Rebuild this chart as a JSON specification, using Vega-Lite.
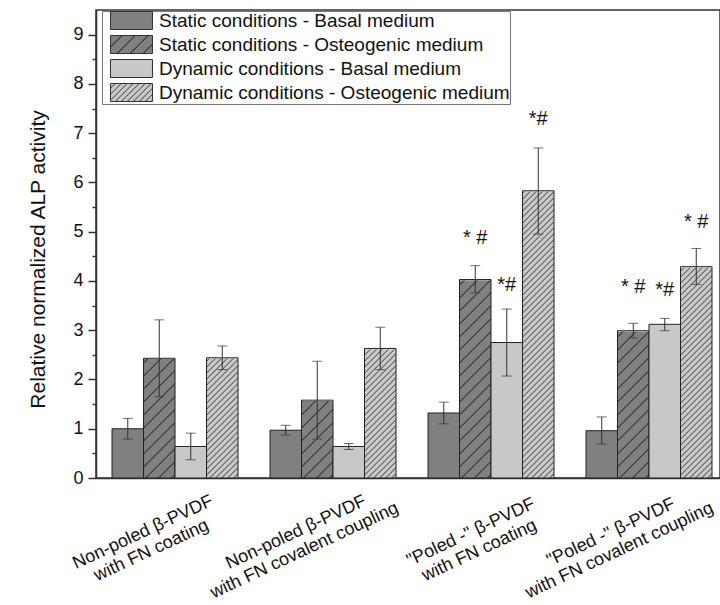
{
  "$schema": "https://vega.github.io/schema/vega-lite/v6.json",
  "width": 624,
  "height": 468,
  "autosize": {"type": "none"},
  "padding": {"left": 96, "top": 10, "right": 0, "bottom": 127},
  "background": "white",
  "config": {"view": {"stroke": "#333333", "strokeWidth": 1.5}, "font": "Liberation Sans"},
  "data": {"values": [
    {"group": "g1", "series": "SB", "value": 1.00, "lo": 0.79, "hi": 1.21},
    {"group": "g1", "series": "SO", "value": 2.43, "lo": 1.65, "hi": 3.21},
    {"group": "g1", "series": "DB", "value": 0.64, "lo": 0.37, "hi": 0.91},
    {"group": "g1", "series": "DO", "value": 2.44, "lo": 2.20, "hi": 2.68},
    {"group": "g2", "series": "SB", "value": 0.97, "lo": 0.87, "hi": 1.07},
    {"group": "g2", "series": "SO", "value": 1.58, "lo": 0.79, "hi": 2.37},
    {"group": "g2", "series": "DB", "value": 0.64, "lo": 0.58, "hi": 0.70},
    {"group": "g2", "series": "DO", "value": 2.63, "lo": 2.20, "hi": 3.06},
    {"group": "g3", "series": "SB", "value": 1.32, "lo": 1.10, "hi": 1.54},
    {"group": "g3", "series": "SO", "value": 4.03, "lo": 3.76, "hi": 4.31, "sig": "* #", "sig_y": 4.75},
    {"group": "g3", "series": "DB", "value": 2.75, "lo": 2.07, "hi": 3.43, "sig": "*#", "sig_y": 3.80},
    {"group": "g3", "series": "DO", "value": 5.83, "lo": 4.95, "hi": 6.70, "sig": "*#", "sig_y": 7.17},
    {"group": "g4", "series": "SB", "value": 0.96, "lo": 0.69, "hi": 1.24},
    {"group": "g4", "series": "SO", "value": 2.99, "lo": 2.84, "hi": 3.14, "sig": "* #", "sig_y": 3.76},
    {"group": "g4", "series": "DB", "value": 3.12, "lo": 2.99, "hi": 3.24, "sig": "*#", "sig_y": 3.70},
    {"group": "g4", "series": "DO", "value": 4.29, "lo": 3.93, "hi": 4.66, "sig": "* #", "sig_y": 5.07}
  ]},
  "encoding": {
    "x": {
      "field": "group", "type": "nominal", "sort": null,
      "scale": {"domain": ["g1", "g2", "g3", "g4"], "paddingInner": 0.2025, "paddingOuter": 0.076, "align": 0.667},
      "axis": {
        "title": null, "ticks": false, "domainColor": "#333333", "domainWidth": 1.5,
        "labelAngle": -25, "labelAlign": "center", "labelBaseline": "middle",
        "labelPadding": 54, "labelFontSize": 18, "labelLineHeight": 20, "labelColor": "#111111",
        "labelOverlap": false, "labelBound": false, "labelLimit": 0,
        "labelOffset": {"condition": [{"test": "datum.value === 'g2'", "value": -37}, {"test": "datum.value === 'g3'", "value": -20}, {"test": "datum.value === 'g4'", "value": -38}], "value": -32},
        "labelExpr": "datum.value === 'g1' ? ['Non-poled β-PVDF', 'with FN coating'] : datum.value === 'g2' ? ['Non-poled β-PVDF', 'with FN covalent coupling'] : datum.value === 'g3' ? ['\"Poled -\" β-PVDF', 'with FN coating'] : ['\"Poled -\" β-PVDF', 'with FN covalent coupling']"
      }
    },
    "xOffset": {"field": "series", "type": "nominal", "sort": null, "scale": {"domain": ["SB", "SO", "DB", "DO"], "paddingInner": 0, "paddingOuter": 0}},
    "y": {
      "field": "value", "type": "quantitative",
      "scale": {"domain": [0, 9.5], "nice": false, "zero": true},
      "axis": {
        "title": "Relative normalized ALP activity", "titleFontSize": 21, "titleFontWeight": "normal", "titleColor": "#111111",
        "titleX": -58, "titleY": 249, "titleAngle": 270, "titleAlign": "center", "titleBaseline": "middle",
        "values": [0, 0.5, 1, 1.5, 2, 2.5, 3, 3.5, 4, 4.5, 5, 5.5, 6, 6.5, 7, 7.5, 8, 8.5, 9],
        "labelExpr": "datum.value % 1 === 0 ? format(datum.value, 'd') : ''",
        "tickSize": {"condition": {"test": "datum.value % 1 !== 0", "value": 4}, "value": 8},
        "tickColor": "#333333", "tickWidth": 1.5, "domainColor": "#333333", "domainWidth": 1.5,
        "labelFontSize": 18, "labelPadding": 5, "labelColor": "#111111", "grid": false
      }
    }
  },
  "layer": [
    {
      "transform": [{"filter": "datum.series === 'none'"}],
      "mark": {"type": "bar"},
      "encoding": {
        "fill": {
          "field": "series", "type": "nominal",
          "scale": {"domain": ["SB", "SO", "DB", "DO"], "range": [
            "#808080",
            {"expr": "{gradient: 'linear', x1: 0, y1: 0, x2: 1.3075, y2: 0.5603, stops: [{offset: 0, color: '#808080'}, {offset: 0.16, color: '#808080'}, {offset: 0.18, color: '#262626'}, {offset: 0.2, color: '#808080'}, {offset: 0.36, color: '#808080'}, {offset: 0.38, color: '#262626'}, {offset: 0.4, color: '#808080'}, {offset: 0.56, color: '#808080'}, {offset: 0.58, color: '#262626'}, {offset: 0.6, color: '#808080'}, {offset: 0.76, color: '#808080'}, {offset: 0.78, color: '#262626'}, {offset: 0.8, color: '#808080'}, {offset: 0.96, color: '#808080'}, {offset: 0.98, color: '#262626'}, {offset: 1, color: '#808080'}]}"},
            "#c8c8c8",
            {"expr": "{gradient: 'linear', x1: 0, y1: 0, x2: 1.207, y2: 0.517, stops: [{offset: 0, color: '#c8c8c8'}, {offset: 0.06, color: '#c8c8c8'}, {offset: 0.08, color: '#4d4d4d'}, {offset: 0.1, color: '#c8c8c8'}, {offset: 0.16, color: '#c8c8c8'}, {offset: 0.18, color: '#4d4d4d'}, {offset: 0.2, color: '#c8c8c8'}, {offset: 0.26, color: '#c8c8c8'}, {offset: 0.28, color: '#4d4d4d'}, {offset: 0.3, color: '#c8c8c8'}, {offset: 0.36, color: '#c8c8c8'}, {offset: 0.38, color: '#4d4d4d'}, {offset: 0.4, color: '#c8c8c8'}, {offset: 0.46, color: '#c8c8c8'}, {offset: 0.48, color: '#4d4d4d'}, {offset: 0.5, color: '#c8c8c8'}, {offset: 0.56, color: '#c8c8c8'}, {offset: 0.58, color: '#4d4d4d'}, {offset: 0.6, color: '#c8c8c8'}, {offset: 0.66, color: '#c8c8c8'}, {offset: 0.68, color: '#4d4d4d'}, {offset: 0.7, color: '#c8c8c8'}, {offset: 0.76, color: '#c8c8c8'}, {offset: 0.78, color: '#4d4d4d'}, {offset: 0.8, color: '#c8c8c8'}, {offset: 0.86, color: '#c8c8c8'}, {offset: 0.88, color: '#4d4d4d'}, {offset: 0.9, color: '#c8c8c8'}, {offset: 0.96, color: '#c8c8c8'}, {offset: 0.98, color: '#4d4d4d'}, {offset: 1, color: '#c8c8c8'}]}"}
          ]},
          "legend": {
            "title": null, "orient": "none", "legendX": 6, "legendY": 1,
            "padding": 0, "strokeColor": "#777777", "fillColor": "white",
            "labelFontSize": 19, "labelLimit": 500, "labelColor": "#111111", "rowPadding": 1,
            "symbolType": "M-2.333,-1H2.333V1H-2.333Z", "symbolSize": 324,
            "symbolStrokeColor": "#333333", "symbolStrokeWidth": 1, "symbolOpacity": 1,
            "symbolOffset": 20, "labelOffset": 18,
            "labelExpr": "datum.value === 'SB' ? 'Static conditions - Basal medium' : datum.value === 'SO' ? 'Static conditions - Osteogenic medium' : datum.value === 'DB' ? 'Dynamic conditions - Basal medium' : 'Dynamic conditions - Osteogenic medium'"
          }
        }
      }
    },
    {
      "transform": [{"filter": "datum.series === 'SO' || datum.series === 'DO'"}],
      "mark": {"type": "bar", "strokeWidth": 0},
      "encoding": {
        "y": {"datum": 0, "type": "quantitative"},
        "y2": {"datum": 6},
        "fill": {
          "condition": {"test": "datum.series === 'SO'", "value": {"gradient": "linear", "x1": 0, "y1": 0, "x2": 0.2317, "y2": 2.174, "stops": [
            {"offset": 0, "color": "#808080"},
            {"offset": 0.016, "color": "#808080"}, {"offset": 0.018, "color": "#262626"}, {"offset": 0.02, "color": "#808080"},
            {"offset": 0.036, "color": "#808080"}, {"offset": 0.038, "color": "#262626"}, {"offset": 0.04, "color": "#808080"},
            {"offset": 0.056, "color": "#808080"}, {"offset": 0.058, "color": "#262626"}, {"offset": 0.06, "color": "#808080"},
            {"offset": 0.076, "color": "#808080"}, {"offset": 0.078, "color": "#262626"}, {"offset": 0.08, "color": "#808080"},
            {"offset": 0.096, "color": "#808080"}, {"offset": 0.098, "color": "#262626"}, {"offset": 0.1, "color": "#808080"},
            {"offset": 0.116, "color": "#808080"}, {"offset": 0.118, "color": "#262626"}, {"offset": 0.12, "color": "#808080"},
            {"offset": 0.136, "color": "#808080"}, {"offset": 0.138, "color": "#262626"}, {"offset": 0.14, "color": "#808080"},
            {"offset": 0.156, "color": "#808080"}, {"offset": 0.158, "color": "#262626"}, {"offset": 0.16, "color": "#808080"},
            {"offset": 0.176, "color": "#808080"}, {"offset": 0.178, "color": "#262626"}, {"offset": 0.18, "color": "#808080"},
            {"offset": 0.196, "color": "#808080"}, {"offset": 0.198, "color": "#262626"}, {"offset": 0.2, "color": "#808080"},
            {"offset": 0.216, "color": "#808080"}, {"offset": 0.218, "color": "#262626"}, {"offset": 0.22, "color": "#808080"},
            {"offset": 0.236, "color": "#808080"}, {"offset": 0.238, "color": "#262626"}, {"offset": 0.24, "color": "#808080"},
            {"offset": 0.256, "color": "#808080"}, {"offset": 0.258, "color": "#262626"}, {"offset": 0.26, "color": "#808080"},
            {"offset": 0.276, "color": "#808080"}, {"offset": 0.278, "color": "#262626"}, {"offset": 0.28, "color": "#808080"},
            {"offset": 0.296, "color": "#808080"}, {"offset": 0.298, "color": "#262626"}, {"offset": 0.3, "color": "#808080"},
            {"offset": 0.316, "color": "#808080"}, {"offset": 0.318, "color": "#262626"}, {"offset": 0.32, "color": "#808080"},
            {"offset": 0.336, "color": "#808080"}, {"offset": 0.338, "color": "#262626"}, {"offset": 0.34, "color": "#808080"},
            {"offset": 0.356, "color": "#808080"}, {"offset": 0.358, "color": "#262626"}, {"offset": 0.36, "color": "#808080"},
            {"offset": 0.376, "color": "#808080"}, {"offset": 0.378, "color": "#262626"}, {"offset": 0.38, "color": "#808080"},
            {"offset": 0.396, "color": "#808080"}, {"offset": 0.398, "color": "#262626"}, {"offset": 0.4, "color": "#808080"},
            {"offset": 0.416, "color": "#808080"}, {"offset": 0.418, "color": "#262626"}, {"offset": 0.42, "color": "#808080"},
            {"offset": 0.436, "color": "#808080"}, {"offset": 0.438, "color": "#262626"}, {"offset": 0.44, "color": "#808080"},
            {"offset": 0.456, "color": "#808080"}, {"offset": 0.458, "color": "#262626"}, {"offset": 0.46, "color": "#808080"},
            {"offset": 0.476, "color": "#808080"}, {"offset": 0.478, "color": "#262626"}, {"offset": 0.48, "color": "#808080"},
            {"offset": 0.496, "color": "#808080"}, {"offset": 0.498, "color": "#262626"}, {"offset": 0.5, "color": "#808080"},
            {"offset": 0.516, "color": "#808080"}, {"offset": 0.518, "color": "#262626"}, {"offset": 0.52, "color": "#808080"}
          ]}},
          "value": {"gradient": "linear", "x1": 0, "y1": 0, "x2": 0.2139, "y2": 2.007, "stops": [
            {"offset": 0, "color": "#c8c8c8"},
            {"offset": 0.006, "color": "#c8c8c8"}, {"offset": 0.008, "color": "#4d4d4d"}, {"offset": 0.01, "color": "#c8c8c8"},
            {"offset": 0.016, "color": "#c8c8c8"}, {"offset": 0.018, "color": "#4d4d4d"}, {"offset": 0.02, "color": "#c8c8c8"},
            {"offset": 0.026, "color": "#c8c8c8"}, {"offset": 0.028, "color": "#4d4d4d"}, {"offset": 0.03, "color": "#c8c8c8"},
            {"offset": 0.036, "color": "#c8c8c8"}, {"offset": 0.038, "color": "#4d4d4d"}, {"offset": 0.04, "color": "#c8c8c8"},
            {"offset": 0.046, "color": "#c8c8c8"}, {"offset": 0.048, "color": "#4d4d4d"}, {"offset": 0.05, "color": "#c8c8c8"},
            {"offset": 0.056, "color": "#c8c8c8"}, {"offset": 0.058, "color": "#4d4d4d"}, {"offset": 0.06, "color": "#c8c8c8"},
            {"offset": 0.066, "color": "#c8c8c8"}, {"offset": 0.068, "color": "#4d4d4d"}, {"offset": 0.07, "color": "#c8c8c8"},
            {"offset": 0.076, "color": "#c8c8c8"}, {"offset": 0.078, "color": "#4d4d4d"}, {"offset": 0.08, "color": "#c8c8c8"},
            {"offset": 0.086, "color": "#c8c8c8"}, {"offset": 0.088, "color": "#4d4d4d"}, {"offset": 0.09, "color": "#c8c8c8"},
            {"offset": 0.096, "color": "#c8c8c8"}, {"offset": 0.098, "color": "#4d4d4d"}, {"offset": 0.1, "color": "#c8c8c8"},
            {"offset": 0.106, "color": "#c8c8c8"}, {"offset": 0.108, "color": "#4d4d4d"}, {"offset": 0.11, "color": "#c8c8c8"},
            {"offset": 0.116, "color": "#c8c8c8"}, {"offset": 0.118, "color": "#4d4d4d"}, {"offset": 0.12, "color": "#c8c8c8"},
            {"offset": 0.126, "color": "#c8c8c8"}, {"offset": 0.128, "color": "#4d4d4d"}, {"offset": 0.13, "color": "#c8c8c8"},
            {"offset": 0.136, "color": "#c8c8c8"}, {"offset": 0.138, "color": "#4d4d4d"}, {"offset": 0.14, "color": "#c8c8c8"},
            {"offset": 0.146, "color": "#c8c8c8"}, {"offset": 0.148, "color": "#4d4d4d"}, {"offset": 0.15, "color": "#c8c8c8"},
            {"offset": 0.156, "color": "#c8c8c8"}, {"offset": 0.158, "color": "#4d4d4d"}, {"offset": 0.16, "color": "#c8c8c8"},
            {"offset": 0.166, "color": "#c8c8c8"}, {"offset": 0.168, "color": "#4d4d4d"}, {"offset": 0.17, "color": "#c8c8c8"},
            {"offset": 0.176, "color": "#c8c8c8"}, {"offset": 0.178, "color": "#4d4d4d"}, {"offset": 0.18, "color": "#c8c8c8"},
            {"offset": 0.186, "color": "#c8c8c8"}, {"offset": 0.188, "color": "#4d4d4d"}, {"offset": 0.19, "color": "#c8c8c8"},
            {"offset": 0.196, "color": "#c8c8c8"}, {"offset": 0.198, "color": "#4d4d4d"}, {"offset": 0.2, "color": "#c8c8c8"},
            {"offset": 0.206, "color": "#c8c8c8"}, {"offset": 0.208, "color": "#4d4d4d"}, {"offset": 0.21, "color": "#c8c8c8"},
            {"offset": 0.216, "color": "#c8c8c8"}, {"offset": 0.218, "color": "#4d4d4d"}, {"offset": 0.22, "color": "#c8c8c8"},
            {"offset": 0.226, "color": "#c8c8c8"}, {"offset": 0.228, "color": "#4d4d4d"}, {"offset": 0.23, "color": "#c8c8c8"},
            {"offset": 0.236, "color": "#c8c8c8"}, {"offset": 0.238, "color": "#4d4d4d"}, {"offset": 0.24, "color": "#c8c8c8"},
            {"offset": 0.246, "color": "#c8c8c8"}, {"offset": 0.248, "color": "#4d4d4d"}, {"offset": 0.25, "color": "#c8c8c8"},
            {"offset": 0.256, "color": "#c8c8c8"}, {"offset": 0.258, "color": "#4d4d4d"}, {"offset": 0.26, "color": "#c8c8c8"},
            {"offset": 0.266, "color": "#c8c8c8"}, {"offset": 0.268, "color": "#4d4d4d"}, {"offset": 0.27, "color": "#c8c8c8"},
            {"offset": 0.276, "color": "#c8c8c8"}, {"offset": 0.278, "color": "#4d4d4d"}, {"offset": 0.28, "color": "#c8c8c8"},
            {"offset": 0.286, "color": "#c8c8c8"}, {"offset": 0.288, "color": "#4d4d4d"}, {"offset": 0.29, "color": "#c8c8c8"},
            {"offset": 0.296, "color": "#c8c8c8"}, {"offset": 0.298, "color": "#4d4d4d"}, {"offset": 0.3, "color": "#c8c8c8"},
            {"offset": 0.306, "color": "#c8c8c8"}, {"offset": 0.308, "color": "#4d4d4d"}, {"offset": 0.31, "color": "#c8c8c8"},
            {"offset": 0.316, "color": "#c8c8c8"}, {"offset": 0.318, "color": "#4d4d4d"}, {"offset": 0.32, "color": "#c8c8c8"},
            {"offset": 0.326, "color": "#c8c8c8"}, {"offset": 0.328, "color": "#4d4d4d"}, {"offset": 0.33, "color": "#c8c8c8"},
            {"offset": 0.336, "color": "#c8c8c8"}, {"offset": 0.338, "color": "#4d4d4d"}, {"offset": 0.34, "color": "#c8c8c8"},
            {"offset": 0.346, "color": "#c8c8c8"}, {"offset": 0.348, "color": "#4d4d4d"}, {"offset": 0.35, "color": "#c8c8c8"},
            {"offset": 0.356, "color": "#c8c8c8"}, {"offset": 0.358, "color": "#4d4d4d"}, {"offset": 0.36, "color": "#c8c8c8"},
            {"offset": 0.366, "color": "#c8c8c8"}, {"offset": 0.368, "color": "#4d4d4d"}, {"offset": 0.37, "color": "#c8c8c8"},
            {"offset": 0.376, "color": "#c8c8c8"}, {"offset": 0.378, "color": "#4d4d4d"}, {"offset": 0.38, "color": "#c8c8c8"},
            {"offset": 0.386, "color": "#c8c8c8"}, {"offset": 0.388, "color": "#4d4d4d"}, {"offset": 0.39, "color": "#c8c8c8"},
            {"offset": 0.396, "color": "#c8c8c8"}, {"offset": 0.398, "color": "#4d4d4d"}, {"offset": 0.4, "color": "#c8c8c8"},
            {"offset": 0.406, "color": "#c8c8c8"}, {"offset": 0.408, "color": "#4d4d4d"}, {"offset": 0.41, "color": "#c8c8c8"},
            {"offset": 0.416, "color": "#c8c8c8"}, {"offset": 0.418, "color": "#4d4d4d"}, {"offset": 0.42, "color": "#c8c8c8"},
            {"offset": 0.426, "color": "#c8c8c8"}, {"offset": 0.428, "color": "#4d4d4d"}, {"offset": 0.43, "color": "#c8c8c8"},
            {"offset": 0.436, "color": "#c8c8c8"}, {"offset": 0.438, "color": "#4d4d4d"}, {"offset": 0.44, "color": "#c8c8c8"},
            {"offset": 0.446, "color": "#c8c8c8"}, {"offset": 0.448, "color": "#4d4d4d"}, {"offset": 0.45, "color": "#c8c8c8"},
            {"offset": 0.456, "color": "#c8c8c8"}, {"offset": 0.458, "color": "#4d4d4d"}, {"offset": 0.46, "color": "#c8c8c8"},
            {"offset": 0.466, "color": "#c8c8c8"}, {"offset": 0.468, "color": "#4d4d4d"}, {"offset": 0.47, "color": "#c8c8c8"},
            {"offset": 0.476, "color": "#c8c8c8"}, {"offset": 0.478, "color": "#4d4d4d"}, {"offset": 0.48, "color": "#c8c8c8"},
            {"offset": 0.486, "color": "#c8c8c8"}, {"offset": 0.488, "color": "#4d4d4d"}, {"offset": 0.49, "color": "#c8c8c8"},
            {"offset": 0.496, "color": "#c8c8c8"}, {"offset": 0.498, "color": "#4d4d4d"}, {"offset": 0.5, "color": "#c8c8c8"},
            {"offset": 0.506, "color": "#c8c8c8"}, {"offset": 0.508, "color": "#4d4d4d"}, {"offset": 0.51, "color": "#c8c8c8"},
            {"offset": 0.516, "color": "#c8c8c8"}, {"offset": 0.518, "color": "#4d4d4d"}, {"offset": 0.52, "color": "#c8c8c8"},
            {"offset": 0.526, "color": "#c8c8c8"}, {"offset": 0.528, "color": "#4d4d4d"}, {"offset": 0.53, "color": "#c8c8c8"},
            {"offset": 0.536, "color": "#c8c8c8"}, {"offset": 0.538, "color": "#4d4d4d"}, {"offset": 0.54, "color": "#c8c8c8"},
            {"offset": 0.546, "color": "#c8c8c8"}, {"offset": 0.548, "color": "#4d4d4d"}, {"offset": 0.55, "color": "#c8c8c8"}
          ]}
        }
      }
    },
    {
      "transform": [{"filter": "datum.series === 'SO' || datum.series === 'DO'"}],
      "mark": {"type": "bar", "stroke": "white", "strokeWidth": 1.5, "fill": "white"},
      "encoding": {
        "y": {"field": "value", "type": "quantitative"},
        "y2": {"datum": 6}
      }
    },
    {
      "mark": {"type": "bar", "stroke": "#222222", "strokeWidth": 1},
      "encoding": {
        "fill": {
          "condition": [{"test": "datum.series === 'SB'", "value": "#808080"}, {"test": "datum.series === 'DB'", "value": "#c8c8c8"}],
          "value": "rgba(0,0,0,0)"
        }
      }
    },
    {
      "mark": {"type": "rule", "color": "#333333", "strokeWidth": 1},
      "encoding": {
        "y": {"field": "lo", "type": "quantitative"},
        "y2": {"field": "hi"}
      }
    },
    {
      "mark": {"type": "tick", "color": "#333333", "thickness": 1, "size": 10},
      "encoding": {"y": {"field": "hi", "type": "quantitative"}}
    },
    {
      "mark": {"type": "tick", "color": "#333333", "thickness": 1, "size": 10},
      "encoding": {"y": {"field": "lo", "type": "quantitative"}}
    },
    {
      "transform": [{"filter": "isValid(datum.sig)"}],
      "mark": {"type": "text", "fontSize": 20, "baseline": "alphabetic", "align": "center", "color": "#111111"},
      "encoding": {
        "y": {"field": "sig_y", "type": "quantitative"},
        "text": {"field": "sig"}
      }
    }
  ]
}
